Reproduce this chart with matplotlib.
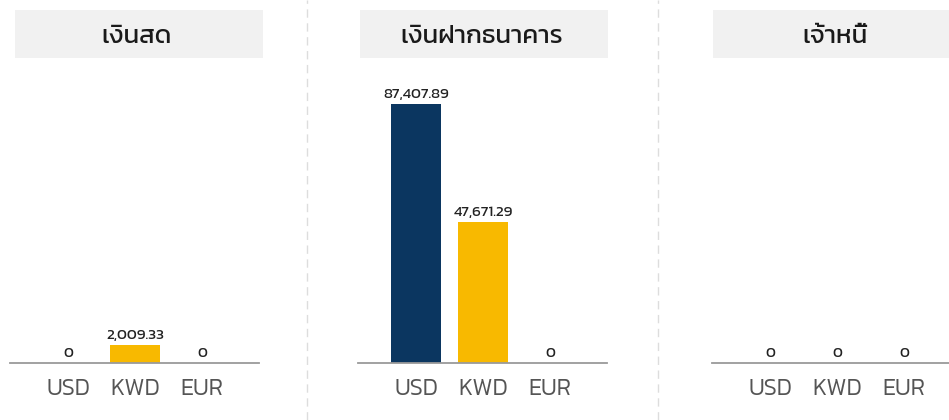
import matplotlib
matplotlib.use('Agg')
import matplotlib.pyplot as plt
from matplotlib import font_manager
from matplotlib.lines import Line2D
from matplotlib.patches import Rectangle

# ข้อมูล
titles = ['เงินสด', 'เงินฝากธนาคาร', 'เจ้าหนี้']
currencies = ['USD', 'KWD', 'EUR']
cash = [0, 2009.33, 0]
bank = [87407.89, 47671.29, 0]
creditor = [0, 0, 0]
labels_cash = ['0', '2,009.33', '0']
labels_bank = ['87,407.89', '47,671.29', '0']
labels_creditor = ['0', '0', '0']
colors = ['#0b3660', '#f8b900', '#f8b900']

W, H = 949, 420


# หาฟอนต์ไทย (Kanit ถ้ามี)
def find_font(names):
    files = font_manager.findSystemFonts()
    for n in names:
        for f in files:
            if f.split('/')[-1] == n:
                return font_manager.FontProperties(fname=f)
    return font_manager.FontProperties(family='DejaVu Sans')

title_fp = find_font(['Kanit-Regular.ttf', 'IBMPlexSansThai-Regular.ttf', 'BaiJamjuree-Regular.ttf'])
tick_fp = find_font(['Kanit-Light.ttf', 'Kanit-Regular.ttf', 'IBMPlexSansThai-Regular.ttf'])
val_fp = find_font(['Kanit-Regular.ttf', 'IBMPlexSansThai-Regular.ttf'])

fig = plt.figure(figsize=(W / 100, H / 100), dpi=100)
fig.patch.set_facecolor('white')

panel_left = [10, 358, 712]
box_left = [15, 360, 713]
panel_w = 249
base_y = 363
top_y = 90
ymax = [30500, 92000, 92000]
series = [cash, bank, creditor]
val_labels = [labels_cash, labels_bank, labels_creditor]

for i in range(3):
    x0 = panel_left[i]
    ax = fig.add_axes([x0 / W, 1 - base_y / H, panel_w / W, (base_y - top_y) / H])
    unit = 67.0
    ax.set_xlim(-58 / unit, (panel_w - 58) / unit)
    ax.set_ylim(0, ymax[i])
    xs = range(len(currencies))
    ax.bar(xs, series[i], width=50 / unit, color=colors)
    for x, v, lab in zip(xs, series[i], val_labels[i]):
        ax.annotate(lab, (x, v), xytext=(0, 2), textcoords='offset points',
                    ha='center', va='bottom', fontproperties=val_fp,
                    fontsize=11, color='#222222')
    for s in ['top', 'right', 'left']:
        ax.spines[s].set_visible(False)
    ax.spines['bottom'].set_color('#9a9a9a')
    ax.spines['bottom'].set_linewidth(1.3)
    ax.set_yticks([])
    ax.set_xticks(list(xs))
    ax.set_xticklabels(currencies, color='#555555')
    for t in ax.get_xticklabels():
        t.set_fontproperties(tick_fp)
        t.set_fontsize(17)
    ax.tick_params(axis='x', length=0, pad=11)
    ax.patch.set_alpha(0)

    # กล่องหัวข้อ
    bx = box_left[i]
    fig.add_artist(Rectangle((bx / W, 1 - 58 / H), 248 / W, 48 / H,
                             transform=fig.transFigure, facecolor='#f1f1f1',
                             edgecolor='none', zorder=0))
    fig.text((bx + 122) / W, 1 - 37 / H, titles[i], fontproperties=title_fp,
             fontsize=18.5, color='#1a1a1a', ha='center', va='center')

# เส้นแบ่งประ
for sx in [307, 658]:
    fig.add_artist(Line2D([sx / W, sx / W], [0, 1], transform=fig.transFigure,
                          color='#dddddd', linestyle=(0, (6, 4)), linewidth=1))

fig.savefig('out.png', dpi=100)
